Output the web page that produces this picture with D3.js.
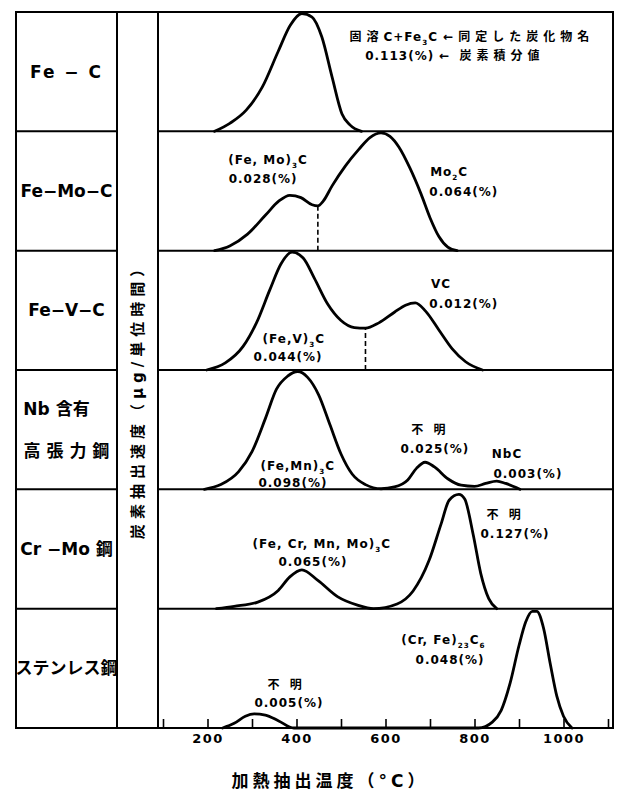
<!DOCTYPE html>
<html><head><meta charset="utf-8">
<script src="https://cdn.jsdelivr.net/npm/d3@7/dist/d3.min.js"></script>
<style>
body{margin:0;background:#fff}
text{font-family:"DejaVu Sans","Noto Sans CJK JP",sans-serif;fill:#000}
</style>
</head><body>
<script>
// ---------------- DATA ----------------
const panelLabels = [["Fe − C"], ["Fe−Mo−C"], ["Fe−V−C"], ["Nb 含有", "高 張 力 鋼"], ["Cr −Mo 鋼"], ["ステンレス鋼"]];

const xTicks = [100, 200, 300, 400, 500, 600, 700, 800, 900, 1000, 1100];
const xTickLabels = ["", "200", "", "400", "", "600", "", "800", "", "1000", ""];

const xTitle = "加熱抽出温度（°C）";
const yTitle = "炭素抽出速度（μg/単位時間）";

// temperature (°C) and relative extraction rate, one pair per panel
const feC_T = [216, 251, 287, 323, 359, 386, 412, 435, 457, 480, 502, 520, 546];
const feC_V = [0, 0.07, 0.18, 0.375, 0.68, 0.9, 1.0, 0.97, 0.8, 0.46, 0.15, 0.055, 0];

const feMoC_T = [216, 250, 290, 330, 360, 385, 410, 435, 448, 460, 480, 510, 540, 565, 590, 610, 630, 655, 680, 700, 720, 740, 761];
const feMoC_V = [0, 0.04, 0.14, 0.3, 0.42, 0.47, 0.45, 0.39, 0.38, 0.42, 0.55, 0.72, 0.86, 0.96, 1.0, 0.97, 0.88, 0.7, 0.48, 0.28, 0.12, 0.03, 0];

const feVC_T = [198, 240, 280, 310, 340, 365, 390, 415, 440, 470, 500, 530, 555, 585, 620, 645, 667, 690, 720, 750, 780, 818];
const feVC_V = [0, 0.06, 0.2, 0.4, 0.68, 0.9, 1.0, 0.95, 0.78, 0.56, 0.42, 0.36, 0.355, 0.4, 0.49, 0.55, 0.57, 0.5, 0.34, 0.18, 0.07, 0];

const nb_T = [193, 230, 270, 300, 330, 355, 380, 403, 425, 450, 475, 500, 525, 555, 590, 620, 650, 670, 689, 710, 740, 770, 800, 825, 850, 870, 902];
const nb_V = [0, 0.04, 0.15, 0.32, 0.6, 0.85, 0.96, 1.0, 0.95, 0.8, 0.55, 0.3, 0.13, 0.04, 0.005, 0.02, 0.08, 0.18, 0.23, 0.19, 0.09, 0.035, 0.025, 0.05, 0.07, 0.05, 0];

const crMo_T = [220, 260, 313, 359, 385, 412, 448, 493, 537, 573, 626, 662, 698, 725, 743, 765, 778, 797, 814, 832, 850];
const crMo_V = [0, 0.02, 0.056, 0.155, 0.27, 0.33, 0.24, 0.1, 0.03, 0, 0.04, 0.15, 0.41, 0.72, 0.92, 0.97, 0.93, 0.63, 0.3, 0.085, 0];

const sus_T = [234, 260, 285, 305, 330, 360, 394, 600, 809, 840, 860, 880, 900, 915, 930, 940, 955, 970, 985, 1000, 1019];
const sus_V = [0, 0.04, 0.1, 0.12, 0.11, 0.06, 0, 0, 0, 0.05, 0.15, 0.38, 0.7, 0.9, 0.99, 0.99, 0.85, 0.55, 0.27, 0.1, 0];

// separation temperatures (dashed lines), null = none
const splitT = [null, 448, 555, null, null, null];

// annotations: panel index, text, temperature & relative height of the label centre
const annoPanel = [0, 0, 1, 1, 1, 1, 2, 2, 2, 2, 3, 3, 3, 3, 3, 3, 4, 4, 4, 4, 5, 5, 5, 5];
const annoText = [
  "固溶C+Fe_3C ←同定した炭化物名", "0.113(%) ← 炭素積分値",
  "(Fe, Mo)_3C", "0.028(%)", "Mo_2C", "0.064(%)",
  "VC", "0.012(%)", "(Fe,V)_3C", "0.044(%)",
  "不 明", "0.025(%)", "NbC", "0.003(%)", "(Fe,Mn)_3C", "0.098(%)",
  "不 明", "0.127(%)", "(Fe, Cr, Mn, Mo)_3C", "0.065(%)",
  "(Cr, Fe)_23C_6", "0.048(%)", "不 明", "0.005(%)"];
const annoT = [794, 756, 336, 325, 743, 776, 725, 776, 394, 381, 702, 711, 873, 920, 403, 392, 871, 891, 457, 437, 730, 745, 379, 383];
const annoV = [0.807, 0.639, 0.768, 0.609, 0.668, 0.5, 0.729, 0.561, 0.268, 0.109, 0.505, 0.346, 0.304, 0.137, 0.204, 0.053, 0.794, 0.634, 0.551, 0.4, 0.746, 0.578, 0.369, 0.218];

// ---------------- DRAW ----------------
const series = [[feC_T, feC_V], [feMoC_T, feMoC_V], [feVC_T, feVC_V], [nb_T, nb_V], [crMo_T, crMo_V], [sus_T, sus_V]];

const W = 621, H = 797;
const F = {left: 16, labelRight: 117, plotLeft: 158, right: 613, top: 12, bottom: 728};
const nP = panelLabels.length;
const pH = (F.bottom - F.top) / nP;

const svg = d3.select("body").append("svg").attr("width", W).attr("height", H);

const x = d3.scaleLinear().domain([100, 1100]).range([163, 608]);
const yScales = d3.range(nP).map(i => {
  const top = F.top + i * pH, bot = top + pH;
  return d3.scaleLinear().domain([0, 1]).range([bot, top + 1.5]);
});

// frame
const frame = svg.append("g").attr("stroke", "#000").attr("fill", "none").attr("stroke-width", 2);
frame.append("rect").attr("x", F.left).attr("y", F.top).attr("width", F.right - F.left).attr("height", F.bottom - F.top);
frame.append("line").attr("x1", F.labelRight).attr("x2", F.labelRight).attr("y1", F.top).attr("y2", F.bottom);
frame.append("line").attr("x1", F.plotLeft).attr("x2", F.plotLeft).attr("y1", F.top).attr("y2", F.bottom);
for (let i = 1; i < nP; i++) {
  const yy = F.top + i * pH;
  frame.append("line").attr("x1", F.left).attr("x2", F.labelRight).attr("y1", yy).attr("y2", yy);
  frame.append("line").attr("x1", F.plotLeft).attr("x2", F.right).attr("y1", yy).attr("y2", yy);
}

// rich text helper: _N -> subscript, CJK runs get wider spacing
function rich(t, str, cjkSpacing) {
  const re = /_(\d+)|([\u3000-\u9fff\uff00-\uffef\u2190]+)|([^_\u3000-\u9fff\uff00-\uffef\u2190]+)/g;
  let m, shifted = false;
  while ((m = re.exec(str))) {
    if (m[1]) {
      t.append("tspan").attr("dy", shifted ? 0 : 4).attr("font-size", "0.6em").text(m[1]);
      shifted = true;
    } else {
      const s = t.append("tspan").text(m[2] || m[3]);
      if (shifted) { s.attr("dy", -4); shifted = false; }
      if (m[2]) s.attr("letter-spacing", cjkSpacing);
    }
  }
}

// panel labels
panelLabels.forEach((lines, i) => {
  const cy = F.top + (i + 0.5) * pH;
  const n = lines.length;
  lines.forEach((ln, j) => {
    svg.append("text")
      .attr("x", (F.left + F.labelRight) / 2 + (n > 1 && j === 0 ? -10 : 0))
      .attr("y", cy + (j - (n - 1) / 2) * 42)
      .attr("dy", "0.36em")
      .attr("text-anchor", "middle")
      .attr("font-size", 17)
      .attr("font-weight", "bold")
      .attr("letter-spacing", i === 0 ? 2 : 0)
      .text(ln);
  });
});

// curves
const line = d3.line().x(d => x(d[0])).y(d => d[1]).curve(d3.curveMonotoneX);
series.forEach(([T, V], i) => {
  const y = yScales[i];
  const pts = T.map((t, k) => [t, y(V[k])]);
  svg.append("path").attr("d", line(pts)).attr("fill", "none").attr("stroke", "#000")
    .attr("stroke-width", 2.8).attr("stroke-linejoin", "round").attr("stroke-linecap", "round");
  if (splitT[i] != null) {
    const k = T.indexOf(splitT[i]);
    svg.append("line").attr("x1", x(splitT[i])).attr("x2", x(splitT[i]))
      .attr("y1", y(0)).attr("y2", y(V[k]))
      .attr("stroke", "#000").attr("stroke-width", 1.6).attr("stroke-dasharray", "5,3");
  }
});

// annotations
annoText.forEach((s, k) => {
  const y = yScales[annoPanel[k]];
  const t = svg.append("text")
    .attr("x", x(annoT[k])).attr("y", y(annoV[k]))
    .attr("dy", "0.36em").attr("text-anchor", "middle")
    .attr("font-size", 12).attr("font-weight", "bold").attr("letter-spacing", 1);
  rich(t, s, 5);
});

// x axis
const axis = d3.axisBottom(x).tickValues(xTicks)
  .tickFormat((d, i) => xTickLabels[i]).tickSize(-9).tickSizeOuter(0).tickPadding(6);
const ag = svg.append("g").attr("transform", `translate(0,${F.bottom})`).call(axis);
ag.select(".domain").remove();
ag.selectAll(".tick line").attr("stroke", "#000").attr("stroke-width", 1.6);
ag.selectAll(".tick text").attr("font-size", 13).attr("font-weight", "bold")
  .attr("letter-spacing", 1.5).attr("font-family", "DejaVu Sans, sans-serif").attr("fill", "#000");

// axis titles
svg.append("text").attr("x", 330).attr("y", 781).attr("dy", "0.36em")
  .attr("text-anchor", "middle").attr("font-size", 17).attr("font-weight", "bold")
  .attr("letter-spacing", 4).text(xTitle);

svg.append("text").attr("transform", `translate(${(F.labelRight + F.plotLeft) / 2},398) rotate(-90)`)
  .attr("dy", "0.36em").attr("text-anchor", "middle").attr("font-size", 15).attr("font-weight", "bold")
  .attr("letter-spacing", 5).text(yTitle);
</script>
</body></html>
